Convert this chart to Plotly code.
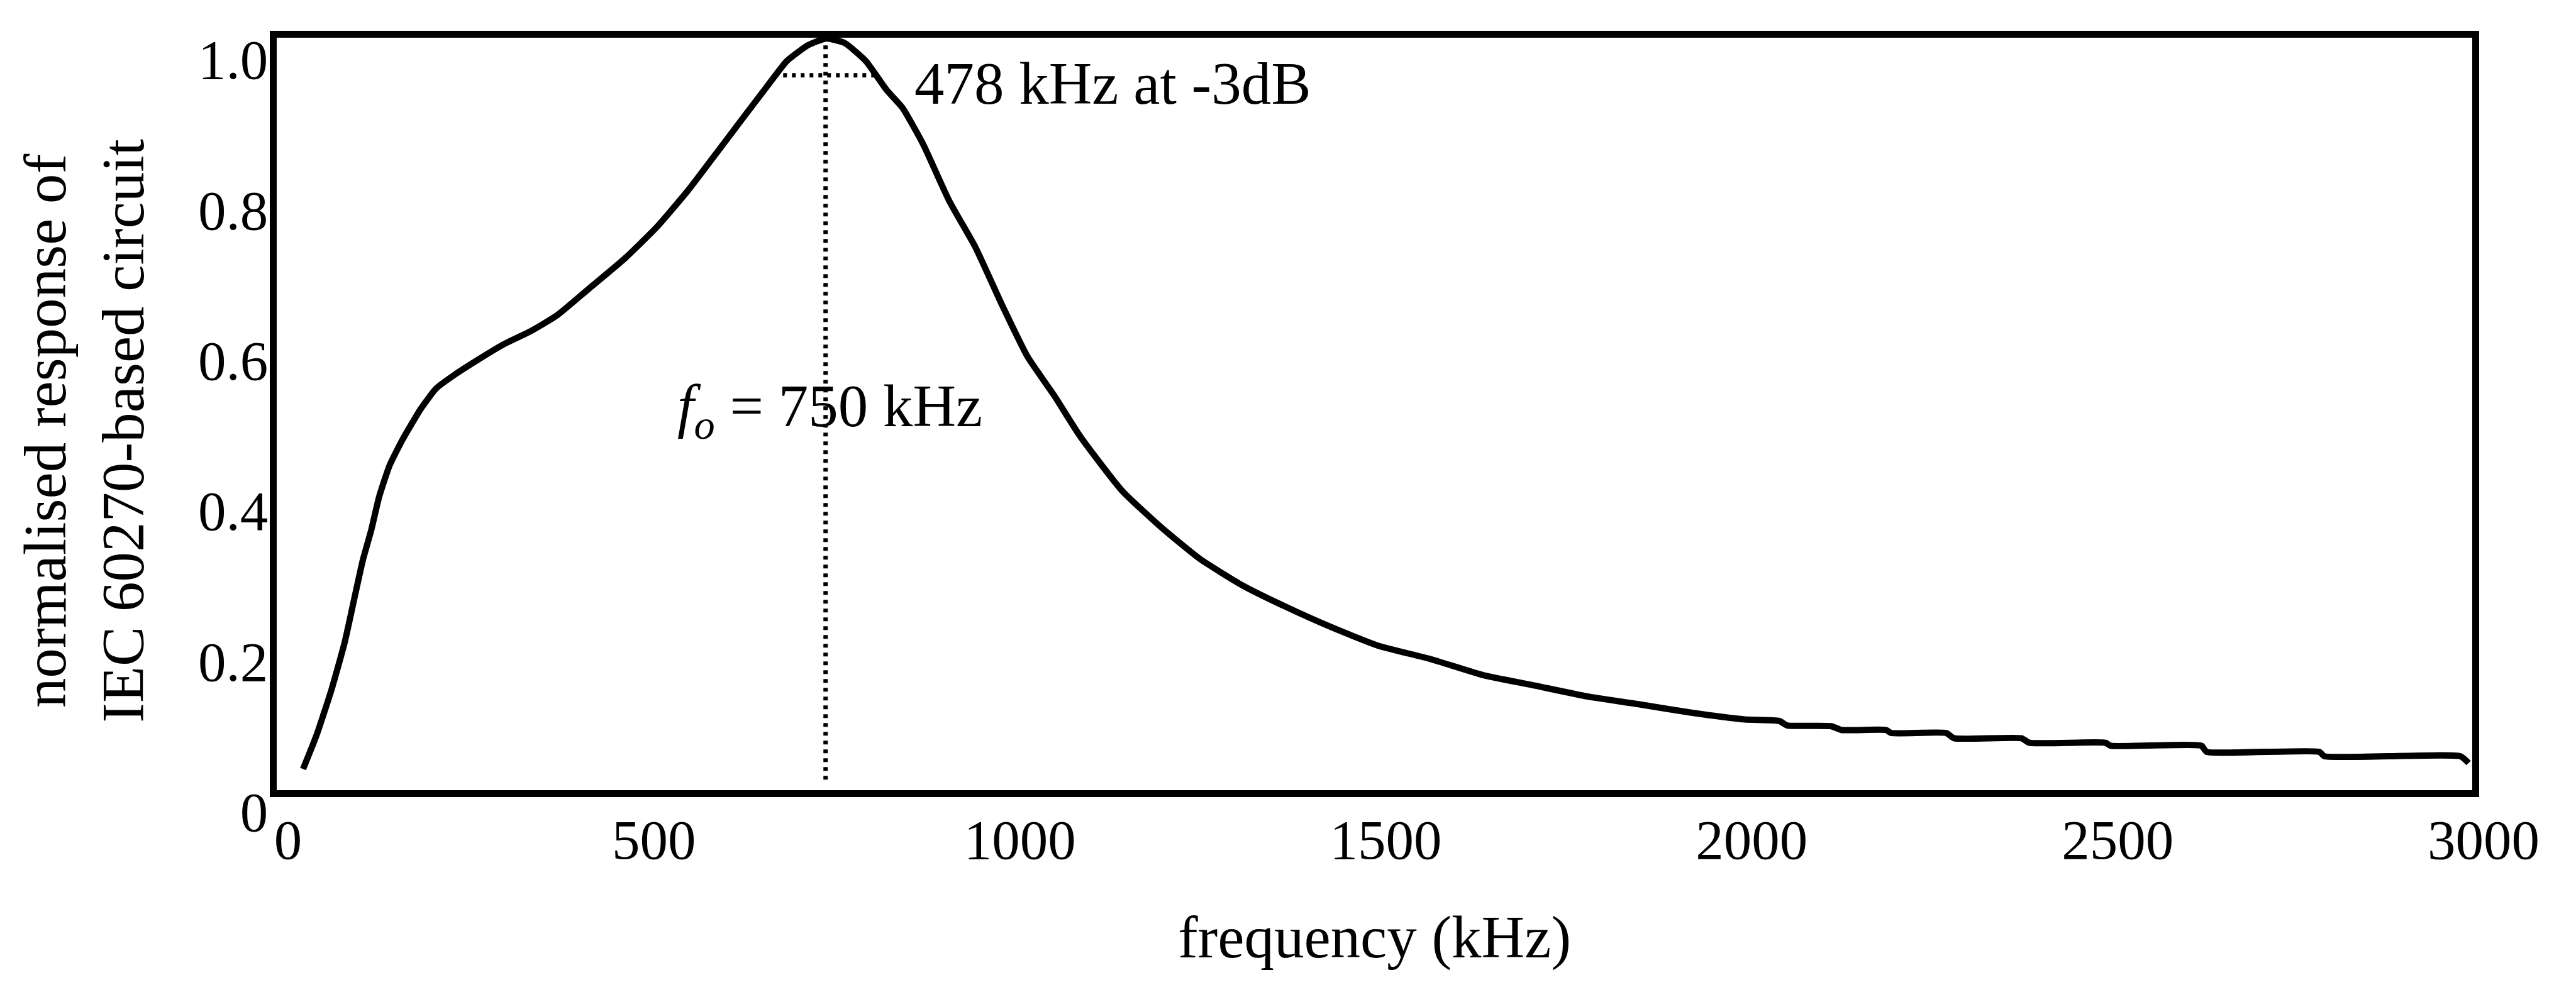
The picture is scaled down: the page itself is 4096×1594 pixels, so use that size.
import plotly.graph_objects as go

# ---- data ----
freq_khz = [36, 54, 75, 93, 107, 118, 129, 140, 154, 172, 197, 218, 243, 275, 311,
            347, 383, 426, 476, 519, 562, 605, 640, 669, 697, 726, 751, 776, 805,
            833, 855, 883, 919, 955, 991, 1026, 1062, 1098, 1155, 1209, 1262, 1319,
            1377, 1441, 1505, 1576, 1648, 1719, 1790, 1862, 1933, 2006, 2053, 2064,
            2124, 2138, 2199, 2206, 2281, 2292, 2384, 2395, 2499, 2506, 2630, 2637,
            2791, 2798, 2984, 2995]
response = [0.028, 0.072, 0.134, 0.197, 0.259, 0.307, 0.345, 0.390, 0.431, 0.466,
            0.507, 0.534, 0.552, 0.572, 0.593, 0.610, 0.631, 0.666, 0.707, 0.748,
            0.797, 0.852, 0.897, 0.934, 0.969, 0.990, 0.999, 0.993, 0.969, 0.931,
            0.907, 0.859, 0.783, 0.721, 0.645, 0.576, 0.525, 0.470, 0.398, 0.349,
            0.307, 0.2725, 0.2445, 0.2166, 0.192, 0.1744, 0.153, 0.139, 0.1247,
            0.114, 0.103, 0.094, 0.092, 0.086, 0.085, 0.080, 0.080, 0.076, 0.076,
            0.069, 0.069, 0.063, 0.063, 0.059, 0.059, 0.051, 0.051, 0.045, 0.045,
            0.036]

f0_line_x = [750, 750]
f0_line_y = [0.014, 0.998]
bw_line_x = [680, 816]
bw_line_y = [0.95, 0.95]

x_ticks = [0, 500, 1000, 1500, 2000, 2500, 3000]
x_ticktext = ["0", "500", "1000", "1500", "2000", "2500", "3000"]
y_ticks = [0, 0.2, 0.4, 0.6, 0.8, 1.0]
y_ticktext = ["0", "0.2", "0.4", "0.6", "0.8", "1.0"]

x_title = "frequency (kHz)"
y_title = "normalised response of<br>IEC 60270-based circuit"
bw_label = "478 kHz at -3dB"
f0_label = "<i>f</i><sub><i>o</i></sub> = 750 kHz"

FONT = "Liberation Serif, Times New Roman, serif"

fig = go.Figure()
fig.add_trace(go.Scatter(x=freq_khz, y=response, mode="lines",
                         line=dict(color="black", width=10, shape="spline", smoothing=0.5),
                         hoverinfo="skip"))
fig.add_trace(go.Scatter(x=f0_line_x, y=f0_line_y, mode="lines",
                         line=dict(color="black", width=7, dash="6px,8px"), hoverinfo="skip"))
fig.add_trace(go.Scatter(x=bw_line_x, y=bw_line_y, mode="lines",
                         line=dict(color="black", width=7, dash="6px,8px"), hoverinfo="skip"))

fig.add_annotation(x=870, y=0.939, xref="x", yref="y", text=bw_label,
                   showarrow=False, xanchor="left", yanchor="middle",
                   font=dict(family=FONT, size=95, color="black"))
fig.add_annotation(x=546, y=0.505, xref="x", yref="y", text=f0_label,
                   showarrow=False, xanchor="left", yanchor="middle",
                   font=dict(family=FONT, size=95, color="black"))
fig.add_annotation(x=-0.0877, y=0.478, xref="paper", yref="paper", text=y_title,
                   showarrow=False, textangle=-90, xanchor="center", yanchor="middle",
                   font=dict(family=FONT, size=95, color="black"))

fig.update_xaxes(range=[0, 3000], tickvals=x_ticks, ticktext=x_ticktext,
                 showgrid=False, zeroline=False, ticks="",
                 showline=True, linecolor="black", linewidth=11, mirror=True,
                 tickfont=dict(family=FONT, size=89, color="black"),
                 ticklabelshift=18, ticklabelstandoff=-9,
                 title=dict(text=x_title, font=dict(family=FONT, size=95, color="black"),
                            standoff=77))
fig.update_yaxes(range=[0, 1.0], tickvals=y_ticks, ticktext=y_ticktext,
                 showgrid=False, zeroline=False, ticks="",
                 showline=True, linecolor="black", linewidth=11, mirror=True,
                 tickfont=dict(family=FONT, size=89, color="black"),
                 ticklabelshift=34, ticklabelstandoff=-15)

fig.update_layout(width=4096, height=1594, autosize=False,
                  margin=dict(l=440, r=165, t=60, b=337, autoexpand=False),
                  paper_bgcolor="white", plot_bgcolor="white",
                  showlegend=False)

fig.write_html("out.html", post_script="document.body.style.margin='0';")
